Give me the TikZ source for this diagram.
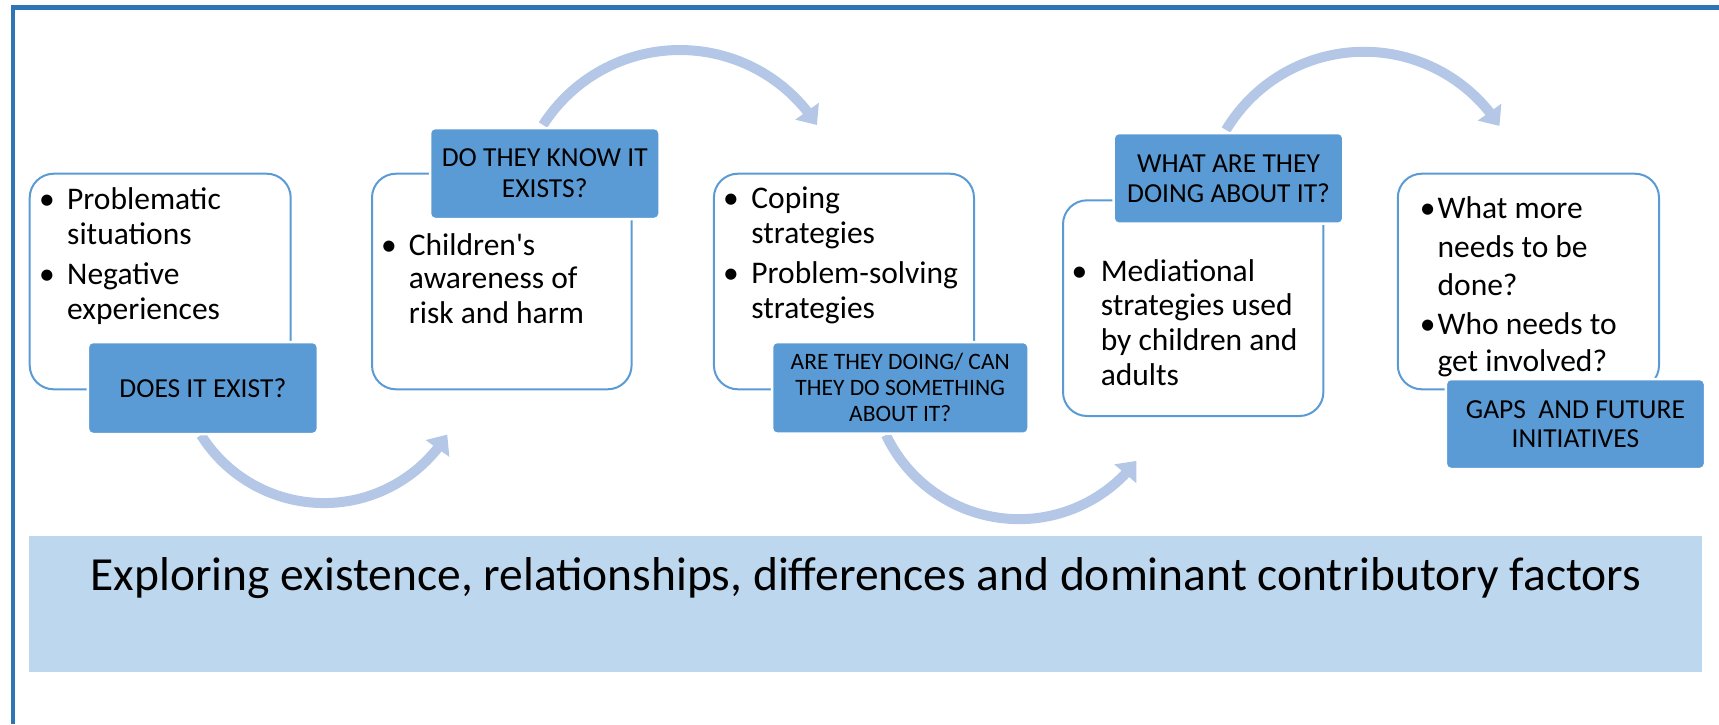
\documentclass[tikz,border=0pt]{standalone}
\usepackage{fontspec}
\setmainfont{Carlito}
\usetikzlibrary{arrows.meta,bending}
\definecolor{frameblue}{HTML}{2E75B6}
\definecolor{accent}{HTML}{5B9BD5}
\definecolor{arrowblue}{HTML}{B4C7E7}
\definecolor{bandblue}{HTML}{BDD7EE}
\begin{document}
\begin{tikzpicture}[x=1pt,y=-1pt,
  box/.style={draw=accent, line width=2pt, fill=white, rounded corners=24pt, inner sep=0pt, anchor=north west},
  lbl/.style={fill=accent, draw=white, line width=2.5pt, rounded corners=5pt, inner sep=0pt, align=center, font=\fontsize{27.5}{31}\selectfont},
  txt/.style={anchor=base west, inner sep=0pt, font=\fontsize{31.5}{38}\selectfont},
  bul/.style={anchor=base, inner sep=0pt, font=\fontsize{31.5}{38}\selectfont},
  curve/.style={draw=arrowblue, line width=10pt, -{Triangle[width=28pt,length=17pt,flex]}}
]
\useasboundingbox (0,0) rectangle (1719,724);
% frame
\draw[frameblue, line width=4.8pt] (13,724) -- (13,7.5) -- (1719,7.5);
% band
\node[fill=bandblue, anchor=north west, inner sep=0pt, minimum width=1673pt, minimum height=135.7pt] (band) at (28.7,536) {};
\node[anchor=base, inner sep=0pt, font=\fontsize{47.5}{52}\selectfont] (bandtxt) at (866,590.5) {Exploring existence, relationships, differences and dominant contributory factors};
% boxes
\node[box, minimum width=261pt, minimum height=215.6pt] (b1) at (28.7,172.7) {};
\node[box, minimum width=259.6pt, minimum height=215.6pt] (b2) at (371,172.7) {};
\node[box, minimum width=260.1pt, minimum height=215.6pt] (b3) at (712.9,172.7) {};
\node[box, minimum width=260.4pt, minimum height=215.7pt] (b4) at (1062,199.3) {};
\node[box, minimum width=261.2pt, minimum height=215.6pt] (b5) at (1396.8,172.7) {};
% curved arrows
\coordinate (a1s) at (201,435);
\coordinate (a2s) at (543,125);
\coordinate (a3s) at (886,435);
\coordinate (a4s) at (1226,130);
\draw[curve] (a1s) arc[start angle=147.9, end angle=31.9, radius=145.2];
\draw[curve] (a2s) arc[start angle=212.6, end angle=327.4, radius=162.6];
\draw[curve] (a3s) arc[start angle=154.6, end angle=37.2, radius=147.3];
\draw[curve] (a4s) arc[start angle=210.9, end angle=327.4, radius=160.8];
% labels
\node[lbl, minimum width=230pt, minimum height=92pt] (l1) at (202.85,388) {DOES IT EXIST?};
\node[lbl, minimum width=229.5pt, minimum height=91pt] (l2) at (544.75,173.5) {DO THEY KNOW IT\\EXISTS?};
\node[lbl, minimum width=256.5pt, minimum height=91.7pt, font=\fontsize{23.5}{26}\selectfont] (l3) at (900.25,387.85) {ARE THEY DOING/ CAN\\THEY DO SOMETHING\\ABOUT IT?};
\node[lbl, minimum width=229.6pt, minimum height=90.7pt, font=\fontsize{27.5}{30}\selectfont] (l4) at (1228.5,178.35) {WHAT ARE THEY\\DOING ABOUT IT?};
\node[lbl, minimum width=259.2pt, minimum height=90pt, font=\fontsize{27.5}{29.5}\selectfont] (l5) at (1575.4,424) {GAPS\ \ AND FUTURE\\INITIATIVES};
% box 1 text
\node[bul] (p1a) at (47,209) {•};
\node[txt] (t1a) at (67,209) {Problematic};
\node[txt] (t1b) at (67,244) {situations};
\node[bul] (p1b) at (47,284) {•};
\node[txt] (t1c) at (67,284) {Negative};
\node[txt] (t1d) at (67,319) {experiences};
% box 2 text
\node[bul] (p2a) at (389,255) {•};
\node[txt] (t2a) at (408.7,255) {Children\textquotesingle s};
\node[txt] (t2b) at (408.7,288.5) {awareness of};
\node[txt] (t2c) at (408.7,323) {risk and harm};
% box 3 text
\node[bul] (p3a) at (730.9,208.3) {•};
\node[txt] (t3a) at (751.2,208.3) {Coping};
\node[txt] (t3b) at (751.2,243.3) {strategies};
\node[bul] (p3b) at (730.9,283.3) {•};
\node[txt] (t3c) at (751.2,283.3) {Problem-solving};
\node[txt] (t3d) at (751.2,318.3) {strategies};
% box 4 text
\node[bul] (p4a) at (1079.5,281.7) {•};
\node[txt] (t4a) at (1100.6,281.7) {Mediational};
\node[txt] (t4b) at (1100.6,315.5) {strategies used};
\node[txt] (t4c) at (1100.6,350) {by children and};
\node[txt] (t4d) at (1100.6,385) {adults};
% box 5 text
\node[bul] (p5a) at (1427.6,218.3) {•};
\node[txt] (t5a) at (1437.4,218.3) {What more};
\node[txt] (t5b) at (1437.4,257.7) {needs to be};
\node[txt] (t5c) at (1437.4,295) {done?};
\node[bul] (p5b) at (1427.6,334.3) {•};
\node[txt] (t5d) at (1437.4,334.3) {Who needs to};
\node[txt] (t5e) at (1437.4,371) {get involved?};
\end{tikzpicture}
\end{document}
